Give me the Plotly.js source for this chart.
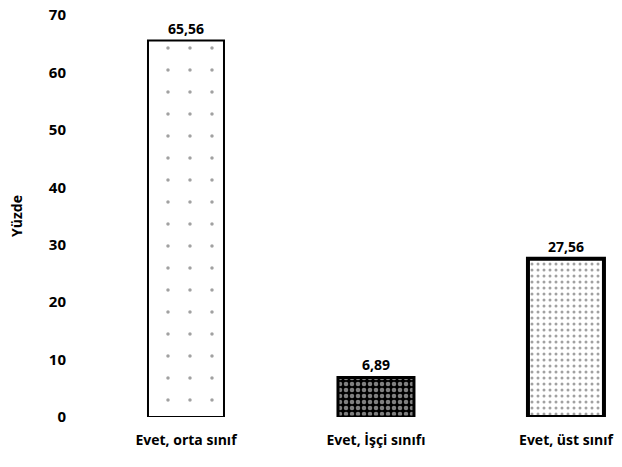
<!DOCTYPE html>
<html>
<head>
<meta charset="utf-8">
<script src="https://cdn.plot.ly/plotly-3.0.1.min.js"></script>
<style>html,body{margin:0;padding:0;background:#fff;}#chart{width:622px;height:467px;}</style>
</head>
<body>
<div id="chart"></div>
<script>
const categories = ["Evet, orta sınıf", "Evet, İşçi sınıfı", "Evet, üst sınıf"];
const values = [65.56, 6.89, 27.56];
const yTicks = [0, 10, 20, 30, 40, 50, 60, 70];

const font = {family: "Open Sans, Noto Sans, sans-serif", size: 14, color: "#000", weight: 700};
const tickFont = {family: "Open Sans, Noto Sans, sans-serif", size: 15, color: "#000", weight: 700};

const trace = {
  type: "bar",
  x: categories,
  y: values,
  width: 0.4,
  texttemplate: "%{y:.2f}",
  textposition: "outside",
  textfont: font,
  cliponaxis: false,
  marker: {
    color: ["#ffffff", "#000000", "#ffffff"],
    line: {color: "#000", width: [2, 3, 4]},
    pattern: {
      shape: [".", ".", "."],
      fgcolor: ["#000", "#ffffff", "#000"],
      bgcolor: ["#ffffff", "#000000", "#ffffff"],
      size: [22, 6, 6],
      solidity: [0.02, 0.45, 0.2],
      fillmode: "overlay"
    }
  },
  hoverinfo: "skip"
};

const layout = {
  width: 622,
  height: 467,
  separators: ", ",
  margin: {l: 91, r: 0, t: 15, b: 50},
  paper_bgcolor: "#fff",
  plot_bgcolor: "#fff",
  showlegend: false,
  font: font,
  xaxis: {
    type: "category",
    range: [-0.5, 2.295],
    showgrid: false,
    showline: false,
    zeroline: false,
    ticks: "outside",
    ticklen: 10,
    tickcolor: "rgba(0,0,0,0)",
    tickfont: font
  },
  yaxis: {
    range: [0, 70],
    tickvals: yTicks,
    showgrid: false,
    showline: false,
    zeroline: false,
    ticks: "",
    ticklabelstandoff: 24,
    tickfont: tickFont,
    title: {text: "Yüzde", font: font, standoff: 22}
  }
};

Plotly.newPlot("chart", [trace], layout, {staticPlot: true, displayModeBar: false});
</script>
</body>
</html>
